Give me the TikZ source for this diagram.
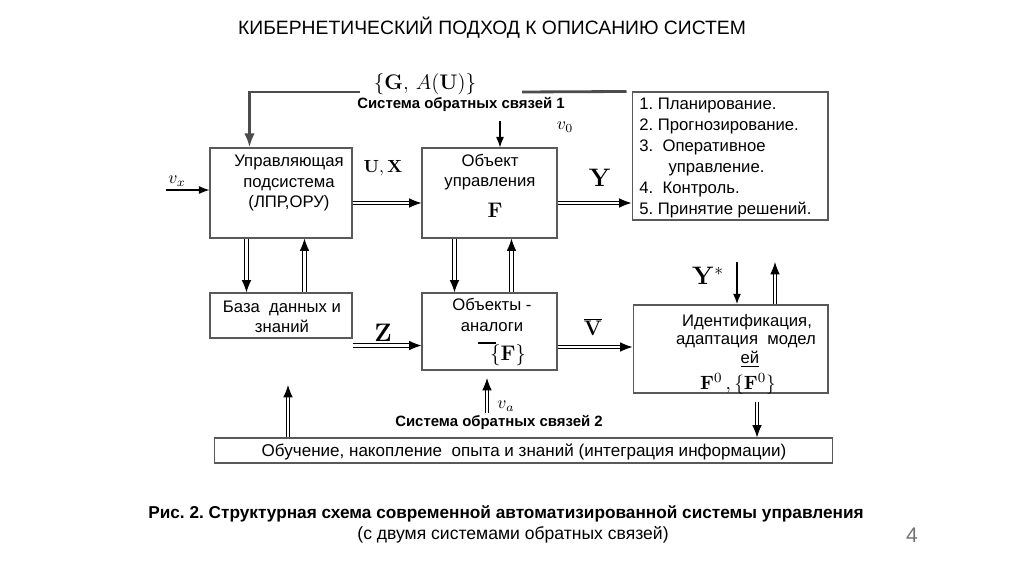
\documentclass[tikz,border=0pt]{standalone}
\usepackage[no-math]{fontspec}
\setmainfont{Liberation Sans}
\usetikzlibrary{arrows.meta,calc}
\frenchspacing

\begin{document}
\begin{tikzpicture}[
  x=0.02cm, y=-0.02cm,
  box/.style={draw=black!65, line width=0.6pt, inner sep=0pt},
  txt/.style={inner sep=0pt, align=center, font=\fontsize{9.5}{11.5}\selectfont},
  lbl/.style={inner sep=0pt, font=\large},
  sig/.style={inner sep=0pt, font=\fontsize{8.5}{10}\selectfont\bfseries},
  dbl/.style={double, double distance=1.3pt, line width=0.6pt,
              -{Latex[length=7pt,width=5.5pt]}},
  fbline/.style={line width=1.6pt, black!70},
  thn/.style={line width=0.6pt, -{Latex[length=6pt,width=4.5pt]}},
]
\useasboundingbox (0,0) rectangle (1024,574);

% Title
\node[inner sep=0pt, font=\fontsize{11}{13}\selectfont] (title) at (492,28)
  {КИБЕРНЕТИЧЕСКИЙ ПОДХОД К ОПИСАНИЮ СИСТЕМ};

% Blocks
\node[box, minimum width=2.84cm, minimum height=1.8cm]  (ups) at (281,193) {};
\node[box, minimum width=2.7cm,  minimum height=1.8cm]  (obj) at (489.5,193) {};
\node[box, minimum width=3.92cm, minimum height=2.56cm] (lst) at (730,156) {};
\node[box, minimum width=2.84cm, minimum height=0.9cm]  (bd)  at (281,315.5) {};
\node[box, minimum width=2.7cm,  minimum height=1.54cm] (ana) at (489.5,331.5) {};
\node[box, minimum width=3.9cm,  minimum height=1.76cm] (idn) at (730.5,349) {};
\node[box, minimum width=12.38cm,minimum height=0.5cm]  (obu) at (523.5,450.5) {};

% Block texts
\node[txt] (ups-t) at (289,183) {Управляющая\\подсистема\\(ЛПР,ОРУ)};
\node[txt] (obj-t) at (490,172) {Объект\\управления};
\node[lbl] (obj-f) at (495,210) {$\mathbf{F}$};
\node[txt, align=left, anchor=north west, font=\fontsize{9.5}{11.9}\selectfont]
  (lst-t) at (639,98)
  {1. Планирование.\\2. Прогнозирование.\\3.\ \ Оперативное\\
   \hspace*{1.75em}управление.\\4.\ \ Контроль.\\5. Принятие решений.};
\node[txt] (bd-t)  at (282,317) {База\ \ данных и\\знаний};
\node[txt] (ana-t) at (492,315) {Объекты -\\аналоги};
\node[lbl] (ana-f) at (508,355) {$\{\mathbf{F}\}$};
\draw[line width=0.6pt] (478,343) -- (496,343);
\node[txt] (idn-1) at (747,322) {Идентификация,};
\node[txt] (idn-2) at (746,342) {адаптация\ \ модел};
\node[txt] (idn-3) at (750,359) {\underline{ей}};
\node[lbl, font=\fontsize{11}{13}\selectfont] (idn-f) at (738,384)
  {$\mathbf{F}^0\,,\{\mathbf{F}^0\}$};
\node[txt, font=\fontsize{9.7}{11.5}\selectfont] (obu-t) at (524,452)
  {Обучение, накопление\ \ опыта и знаний (интеграция информации)};

% Signal labels
\node[lbl] (ga)  at (425,84)  {$\bigl\{\mathbf{G},\,A(\mathbf{U})\bigr\}$};
\node[sig] (fb1) at (461,104) {Система обратных связей 1};
\node[sig] (fb2) at (499,422) {Система обратных связей 2};
\node[inner sep=0pt] (v0) at (565,127) {$v_0$};
\node[inner sep=0pt] (vx) at (177,181) {$v_x$};
\node[inner sep=0pt] (va) at (506,406) {$v_a$};
\node[inner sep=0pt] (ux) at (383,168) {$\mathbf{U},\mathbf{X}$};
\node[lbl, font=\Large] (y)  at (600,178) {$\mathbf{Y}$};
\node[lbl, font=\Large] (z)  at (383,333) {$\mathbf{Z}$};
\node[lbl] (vb) at (593,327) {$\overline{\mathbf{V}}$};
\node[lbl, font=\Large] (ys) at (708,276) {$\mathbf{Y}^{*}$};

% Feedback loop 1
\coordinate (gR) at (522,92);
\coordinate (gL) at (360,92);
\draw[fbline] ($(lst.north west)+(-5,0)$) -- (gR);
\draw[fbline, -{Latex[length=8pt,width=6pt]}] (gL) -| ($(ups.north west)+(40,0)$);
\coordinate (v0s) at (500,121);
\draw[thn] (v0s) -- (v0s |- obj.north);
\coordinate (vxs) at (166,190);
\draw[thn] (vxs) -- (vxs -| ups.west);

% Main chain
\coordinate (uxs) at ($(ups.east)+(0,10)$);
\draw[dbl] (uxs) -- (uxs -| obj.west);
\coordinate (yes) at ($(obj.east)+(0,10)$);
\draw[dbl] (yes) -- (yes -| lst.west);

% Vertical links
\draw[dbl] ($(ups.south west)+(37,0)$) -- ($(bd.north west)+(37,0)$);
\draw[dbl] ($(bd.north west)+(95,0)$) -- ($(ups.south west)+(95,0)$);
\draw[dbl] ($(obj.south west)+(33,0)$) -- ($(ana.north west)+(33,0)$);
\draw[dbl] ($(ana.north west)+(90,0)$) -- ($(obj.south west)+(90,0)$);

% Lower chain
\coordinate (zs) at ($(bd.south east)+(0,7)$);
\draw[dbl] (zs) -- (zs -| ana.west);
\coordinate (vs) at ($(ana.east)+(0,15.5)$);
\draw[dbl] (vs) -- (vs -| idn.west);
\coordinate (yss) at (737,262);
\draw[thn, line width=1pt] (yss) -- (yss |- idn.north);
\coordinate (yu) at (775,262);
\draw[dbl] (yu |- idn.north) -- (yu);

% Feedback loop 2
\coordinate (ids) at (757,402);
\draw[dbl] (ids) -- (ids |- obu.north);
\coordinate (ou) at (288,385);
\draw[dbl] (ou |- obu.north) -- (ou);
\coordinate (va1) at (487,413);
\coordinate (va2) at (487,378);
\draw[dbl] (va1) -- (va2);

% Caption
\node[inner sep=0pt, font=\fontsize{9.8}{12}\selectfont\bfseries] (cap1) at (506,514)
  {Рис. 2. Структурная схема современной автоматизированной системы управления};
\node[inner sep=0pt, font=\fontsize{10}{12}\selectfont] (cap2) at (513,535)
  {(с двумя системами обратных связей)};
\node[inner sep=0pt, text=black!55, font=\fontsize{12}{14}\selectfont] (pg) at (912,535) {4};
\end{tikzpicture}
\end{document}
